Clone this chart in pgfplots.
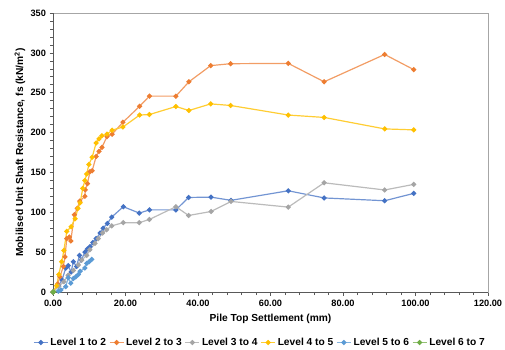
\documentclass[border=0pt]{standalone}
\usepackage{fontspec}
\setmainfont{Liberation Sans}
\usepackage{pgfplots}
\pgfplotsset{compat=1.18}
\definecolor{c1}{HTML}{4472C4}
\definecolor{c2}{HTML}{ED7D31}
\definecolor{c3}{HTML}{A5A5A5}
\definecolor{c4}{HTML}{FFC000}
\definecolor{c5}{HTML}{5B9BD5}
\definecolor{c6}{HTML}{70AD47}
\begin{document}
\begin{tikzpicture}
\useasboundingbox (0,0) rectangle (505pt,349pt);
\begin{axis}[
  at={(53pt,57pt)}, anchor=south west,
  scale only axis, width=435pt, height=279pt,
  xmin=0, xmax=120, ymin=0, ymax=350,
  xtick={0,20,...,120}, ytick={0,50,...,350},
  minor x tick num=4, minor y tick num=4,
  xtick pos=left, ytick pos=left, tick align=outside,
  major tick length=3.5pt, minor tick length=3pt,
  every tick/.style={black!65, line width=0.6pt},
  axis line style={black!35, line width=0.8pt},
  /pgf/number format/assume math mode=true,
  xticklabel style={/pgf/number format/fixed, /pgf/number format/fixed zerofill, /pgf/number format/precision=2, yshift=-1pt},
  tick label style={font=\bfseries\fontsize{9.2}{10}\selectfont},
  label style={font=\bfseries\fontsize{10.2}{12}\selectfont},
  xlabel={Pile Top Settlement (mm)},
  ylabel={Mobilised Unit Shaft Resistance, fs (kN/m\textsuperscript{2})},
  xlabel style={at={([yshift=-27pt]axis description cs:0.5,0)}, anchor=center},
  ylabel style={at={([xshift=-33pt]axis description cs:0,0.5)}, anchor=center},
  clip=false,
  legend columns=6,
  legend style={at={([yshift=-50.5pt]axis description cs:0.476,0)}, anchor=center, draw=none,
    font=\bfseries\fontsize{10.2}{12}\selectfont, /tikz/every even column/.append style={column sep=1pt}, inner sep=0pt},
  legend image code/.code={\draw[#1, mark repeat=2, mark phase=2] plot coordinates {(0pt,0pt) (7pt,0pt) (14pt,0pt)};},
  every axis plot/.append style={line width=1.2pt},
]
\addplot[color=c1!75!white, mark=*, mark size=1.9pt, mark options={fill=c1, draw=c1}] coordinates {
(0,0) (1.5,8) (2.5,15) (3.5,30) (4.2,33) (5.0,25) (5.6,38) (6.5,32) (7.3,46) (7.8,40) (8.8,50) (9.5,54) (10.2,57) (11,62) (11.9,67) (13,74) (13.8,80) (15,86) (16.2,94) (19.4,107) (23.8,99) (26.6,103) (33.9,103) (37.4,118.6) (43.6,119) (49.1,115) (64.9,127) (74.8,118) (91.5,114.5) (99.5,123.7)};
\addlegendentry{Level 1 to 2}
\addplot[color=c2!75!white, mark=*, mark size=1.9pt, mark options={fill=c2, draw=c2}] coordinates {
(0,0) (1.3,10) (1.9,19) (2.85,32) (3.3,44) (3.8,67) (4.5,69) (4.9,64) (5.9,97) (6.7,105) (7.4,114) (8.8,120) (8.9,128) (9.5,136) (10.2,151) (10.8,152) (11.9,170) (12.7,176.5) (13.5,181.5) (14.9,195) (16.3,198) (19.3,213) (23.9,233) (26.6,245.7) (33.9,245.7) (37.5,263.7) (43.5,284) (49,286.4) (64.9,286.8) (74.8,263.7) (91.5,298) (99.5,279)};
\addlegendentry{Level 2 to 3}
\addplot[color=c3!75!white, mark=*, mark size=1.9pt, mark options={fill=c3, draw=c3}] coordinates {
(0,0) (1.6,7) (3,13) (4.2,21) (5.6,27) (7,34) (7.9,40) (9.3,46) (10.2,53) (11.6,61) (12.5,67) (13.7,74) (14.8,78) (16.2,83) (19.4,87) (23.8,87) (26.6,91) (33.9,107) (37.4,96) (43.6,101) (49.1,113.6) (64.9,106.5) (74.8,137) (91.5,128) (99.5,135)};
\addlegendentry{Level 3 to 4}
\addplot[color=c4!80!white, mark=*, mark size=1.9pt, mark options={fill=c4, draw=c4}] coordinates {
(0,0) (1,8) (1.6,22) (2.4,38) (3.0,52) (3.8,76) (5.0,82) (6.1,92) (6.9,105) (7.5,112) (8.2,130) (8.8,140) (9.3,148) (9.9,160) (10.8,169) (11.9,187) (12.7,192) (13.5,196) (14.9,198) (16.3,203) (19.3,207) (23.9,222) (26.6,222.6) (33.9,232.7) (37.5,227.7) (43.5,236) (49,234) (64.9,222) (74.8,219) (91.5,204.6) (99.5,203.4)};
\addlegendentry{Level 4 to 5}
\addplot[color=c5!75!white, mark=*, mark size=1.9pt, mark options={fill=c5, draw=c5}] coordinates {
(0,0) (1.5,1) (2.2,2.5) (3.5,6.7) (4.2,18) (4.9,11) (5.6,17) (6.3,19) (7,22) (7.5,26) (8.8,30) (9.3,36) (10,38) (10.7,41)};
\addlegendentry{Level 5 to 6}
\addplot[color=c6!75!white, mark=*, mark size=1.9pt, mark options={fill=c6, draw=c6}] coordinates {(0,0) (0.2,0.3)};
\addlegendentry{Level 6 to 7}
\draw[black!65, line width=0.8pt] (rel axis cs:0,1) -- (rel axis cs:0,0) -- (rel axis cs:1,0);
\end{axis}
\end{tikzpicture}
\end{document}
